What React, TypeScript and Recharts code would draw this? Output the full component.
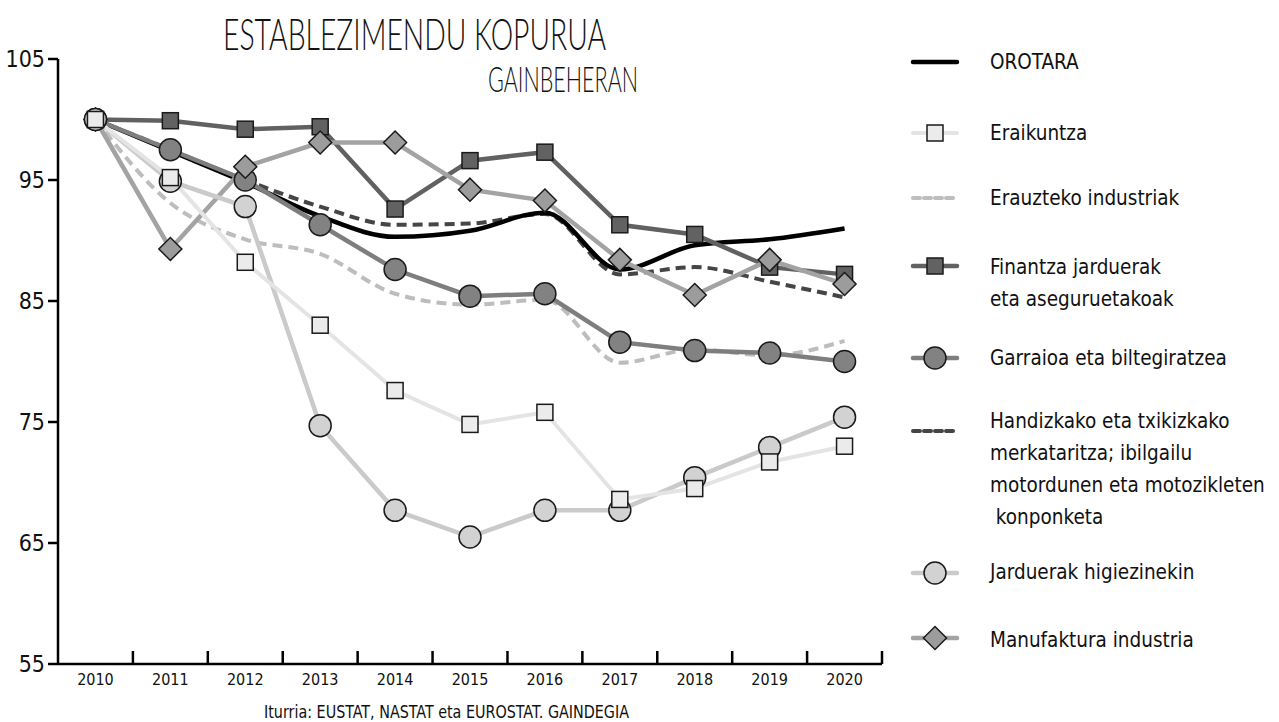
import React from 'react';
import { LineChart, Line, XAxis, YAxis } from 'recharts';

const years = ['2010', '2011', '2012', '2013', '2014', '2015', '2016', '2017', '2018', '2019', '2020'];
const orotara = [100, 97.4, 94.8, 92.0, 90.3, 90.8, 92.3, 87.6, 89.6, 90.1, 91.0];
const eraikuntza = [100, 95.2, 88.2, 83.0, 77.6, 74.8, 75.8, 68.6, 69.5, 71.7, 73.0];
const erauzteko = [100, 93.1, 90.1, 88.9, 85.6, 84.7, 85.1, 79.9, 81.0, 80.5, 81.7];
const finantza = [100, 99.9, 99.2, 99.4, 92.6, 96.6, 97.3, 91.3, 90.5, 87.8, 87.2];
const garraioa = [100, 97.5, 95.0, 91.3, 87.6, 85.4, 85.6, 81.6, 80.9, 80.7, 80.0];
const handizkako = [100, 97.5, 95.0, 92.8, 91.3, 91.4, 92.2, 87.2, 87.8, 86.6, 85.3];
const higiezinak = [100, 94.9, 92.8, 74.7, 67.7, 65.5, 67.7, 67.7, 70.4, 72.9, 75.4];
const manufaktura = [100, 89.3, 96.1, 98.1, 98.1, 94.2, 93.3, 88.4, 85.5, 88.4, 86.4];
const yTicks = [55, 65, 75, 85, 95, 105];

const titleText = 'ESTABLEZIMENDU KOPURUA';
const subtitleText = 'GAINBEHERAN';
const sourceText = 'Iturria: EUSTAT, NASTAT eta EUROSTAT. GAINDEGIA';

const data = years.map((year, i) => ({
  year,
  orotara: orotara[i],
  eraikuntza: eraikuntza[i],
  erauzteko: erauzteko[i],
  finantza: finantza[i],
  garraioa: garraioa[i],
  handizkako: handizkako[i],
  higiezinak: higiezinak[i],
  manufaktura: manufaktura[i],
}));

type Marker = 'none' | 'square' | 'circle' | 'diamond';
interface Series {
  key: string;
  label: string[];
  color: string;
  fill: string;
  width: number;
  dash?: string;
  marker: Marker;
  smooth: boolean;
  legendY: number;
  textY: number;
}

// legend order
const legendSeries: Series[] = [
  { key: 'orotara', label: ['OROTARA'], color: '#000000', fill: '#000', width: 4.5, marker: 'none', smooth: true, legendY: 62, textY: 62 },
  { key: 'eraikuntza', label: ['Eraikuntza'], color: '#e4e4e4', fill: '#ebebeb', width: 4, marker: 'square', smooth: false, legendY: 133, textY: 133 },
  { key: 'erauzteko', label: ['Erauzteko industriak'], color: '#bdbdbd', fill: '#bdbdbd', width: 4, dash: '10 6', marker: 'none', smooth: true, legendY: 198, textY: 198 },
  { key: 'finantza', label: ['Finantza jarduerak', 'eta aseguruetakoak'], color: '#616161', fill: '#626262', width: 4.5, marker: 'square', smooth: false, legendY: 266, textY: 267 },
  { key: 'garraioa', label: ['Garraioa eta biltegiratzea'], color: '#7e7e7e', fill: '#828282', width: 4.5, marker: 'circle', smooth: false, legendY: 358, textY: 358 },
  { key: 'handizkako', label: ['Handizkako eta txikizkako', 'merkataritza; ibilgailu', 'motordunen eta motozikleten', ' konponketa'], color: '#454545', fill: '#454545', width: 4, dash: '10 6', marker: 'none', smooth: true, legendY: 431, textY: 421 },
  { key: 'higiezinak', label: ['Jarduerak higiezinekin'], color: '#cacaca', fill: '#d2d2d2', width: 4.5, marker: 'circle', smooth: false, legendY: 573, textY: 572 },
  { key: 'manufaktura', label: ['Manufaktura industria'], color: '#a3a3a3', fill: '#9c9c9c', width: 4.5, marker: 'diamond', smooth: false, legendY: 638, textY: 640 },
];

// drawing order (bottom to top)
const drawOrder = ['erauzteko', 'handizkako', 'orotara', 'garraioa', 'finantza', 'manufaktura', 'higiezinak', 'eraikuntza'];

const FONT = "'Liberation Sans Narrow', 'DejaVu Sans Condensed', 'Roboto Condensed', sans-serif";
const TITLE_FONT = "Lato, 'DejaVu Sans Condensed', sans-serif";
const W = 1279;
const H = 722;
const LEFT = 58;
const RIGHT = 882;
const TOP = 59;
const BOTTOM = 664;
const BAND = (RIGHT - LEFT) / years.length;

function markerShape(marker: Marker, cx: number, cy: number, fill: string, key?: any) {
  const stroke = '#1a1a1a';
  if (marker === 'square') {
    const s = 8;
    return <rect key={key} x={cx - s} y={cy - s} width={s * 2} height={s * 2} fill={fill} stroke={stroke} strokeWidth={1.5} />;
  }
  if (marker === 'circle') {
    return <circle key={key} cx={cx} cy={cy} r={11} fill={fill} stroke={stroke} strokeWidth={1.5} />;
  }
  if (marker === 'diamond') {
    const d = 11.5;
    return <polygon key={key} points={`${cx},${cy - d} ${cx + d},${cy} ${cx},${cy + d} ${cx - d},${cy}`} fill={fill} stroke={stroke} strokeWidth={1.5} />;
  }
  return null;
}

const XTick = (props: any) => {
  const { x, payload, index } = props;
  return (
    <g key={`xt-${index}`}>
      <line x1={x + BAND / 2} x2={x + BAND / 2} y1={BOTTOM} y2={BOTTOM - 13} stroke="#000" strokeWidth={2.5} />
      <text x={x} y={685} textAnchor="middle" fontSize={16} fontFamily={FONT} fill="#111">
        {payload.value}
      </text>
    </g>
  );
};

const Legend = () => (
  <svg width={W} height={H} style={{ position: 'absolute', left: 0, top: 0, pointerEvents: 'none' }}>
    {legendSeries.map((s) => (
      <g key={s.key}>
        <line x1={913} x2={957} y1={s.legendY} y2={s.legendY} stroke={s.color} strokeWidth={s.width} strokeDasharray={s.dash ? '7 4' : undefined} strokeLinecap="round" />
        {markerShape(s.marker, 935, s.legendY, s.fill)}
        {s.label.map((t, i) => (
          <text key={i} x={990} y={s.textY + i * 32} dominantBaseline="central" fontSize={20.5} fontFamily={FONT} fill="#111" style={{ whiteSpace: 'pre' }}>
            {t}
          </text>
        ))}
      </g>
    ))}
    <text x={223} y={50} fontSize={44} fontWeight={300} fontFamily={TITLE_FONT} fill="#111" textLength={383} lengthAdjust="spacingAndGlyphs">{titleText}</text>
    <text x={488} y={92} fontSize={36} fontWeight={300} fontFamily={TITLE_FONT} fill="#111" textLength={150} lengthAdjust="spacingAndGlyphs">{subtitleText}</text>
    <text x={264} y={718} fontSize={17} fontFamily={FONT} fill="#111" textLength={365} lengthAdjust="spacingAndGlyphs">{sourceText}</text>
  </svg>
);

export default function App() {
  const byKey: Record<string, Series> = {};
  legendSeries.forEach((s) => (byKey[s.key] = s));
  return (
    <div style={{ position: 'absolute', left: 0, top: 0, width: W, height: H, background: '#fff' }}>
      <LineChart width={W} height={H} data={data} margin={{ top: TOP, right: W - RIGHT, bottom: 0, left: 0 }}>
        <XAxis
          dataKey="year"
          scale="band"
          height={H - BOTTOM}
          axisLine={{ stroke: '#000', strokeWidth: 2.5 }}
          tickLine={false}
          tick={<XTick />}
          interval={0}
        />
        <YAxis
          width={LEFT}
          domain={[55, 105]}
          ticks={yTicks}
          interval={0}
          axisLine={{ stroke: '#000', strokeWidth: 2.5 }}
          tickLine={{ stroke: '#000', strokeWidth: 2.5 }}
          tickSize={10}
          tickMargin={3}
          tick={{ fontSize: 23, fontFamily: FONT, fill: '#111' }}
        />
        {drawOrder.map((k) => {
          const s = byKey[k];
          return (
            <Line
              key={k}
              dataKey={k}
              type={s.smooth ? 'monotone' : 'linear'}
              stroke={s.color}
              strokeWidth={s.width}
              strokeDasharray={s.dash}
              dot={s.marker === 'none' ? false : (p: any) => markerShape(s.marker, p.cx, p.cy, s.fill, `${k}-${p.index}`)}
              activeDot={false}
              isAnimationActive={false}
            />
          );
        })}
      </LineChart>
      <Legend />
    </div>
  );
}
